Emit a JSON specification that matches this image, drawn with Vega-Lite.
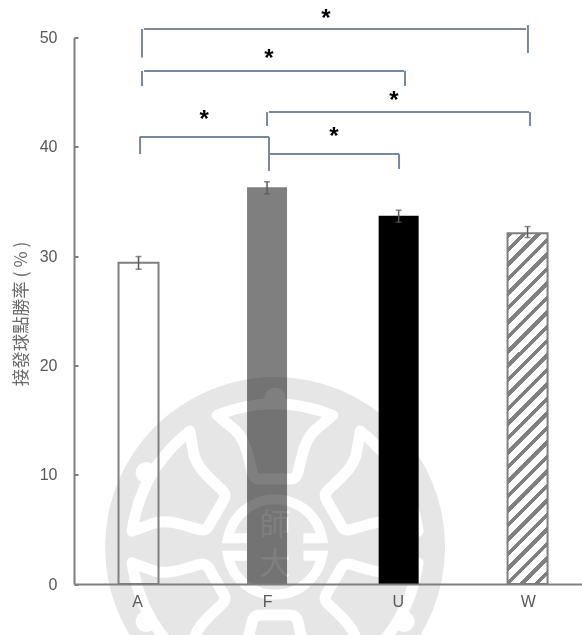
{"$schema":"https://vega.github.io/schema/vega-lite/v6.json","width":508,"height":546.5,"autosize":{"type":"none"},"padding":{"left":74,"top":37.5,"right":0,"bottom":51},"background":"white","view":{"stroke":null},"config":{"font":"Liberation Sans"},"datasets":{"bars":[{"group":"A","pos":1,"value":29.4,"low":28.8,"high":29.96},{"group":"F","pos":1.994,"value":36.3,"low":35.7,"high":36.8},{"group":"U","pos":3.012,"value":33.7,"low":33.1,"high":34.2},{"group":"W","pos":4.009,"value":32.1,"low":31.7,"high":32.7}],"segments":[{"pos":1.043,"pos2":3.997,"value":50.78,"value2":50.78},{"pos":1.027,"pos2":1.027,"value":50.78,"value2":48.17},{"pos":4.012,"pos2":4.012,"value":51.14,"value2":48.58},{"pos":1.043,"pos2":3.053,"value":46.94,"value2":46.94},{"pos":1.027,"pos2":1.027,"value":46.94,"value2":45.56},{"pos":3.061,"pos2":3.061,"value":46.94,"value2":45.56},{"pos":2.009,"pos2":4.02,"value":43.18,"value2":43.18},{"pos":1.994,"pos2":1.994,"value":43.18,"value2":41.9},{"pos":4.028,"pos2":4.028,"value":43.18,"value2":41.9},{"pos":1.008,"pos2":2.009,"value":40.9,"value2":40.9},{"pos":1.012,"pos2":1.012,"value":40.9,"value2":39.34},{"pos":2.009,"pos2":2.009,"value":40.9,"value2":37.79},{"pos":2.009,"pos2":3.015,"value":39.34,"value2":39.34},{"pos":3.015,"pos2":3.015,"value":39.34,"value2":37.97}],"stars":[{"pos":2.45,"value":52.06,"label":"*"},{"pos":2.009,"value":48.4,"label":"*"},{"pos":2.976,"value":44.56,"label":"*"},{"pos":1.507,"value":42.82,"label":"*"},{"pos":2.512,"value":41.26,"label":"*"}],"watermark":[{"pos":2.056,"value":3.385,"angle":0},{"pos":2.056,"value":3.385,"angle":60},{"pos":2.056,"value":3.385,"angle":120},{"pos":2.056,"value":3.385,"angle":180},{"pos":2.056,"value":3.385,"angle":240},{"pos":2.056,"value":3.385,"angle":300}],"seal":[{"pos":2.056,"value":5.3,"label":"師"},{"pos":2.056,"value":1.7,"label":"大"}]},"encoding":{"x":{"field":"pos","type":"quantitative","scale":{"domain":[0.501,4.43],"nice":false,"zero":false,"padding":0},"axis":{"title":null,"values":[0.988,1.994,3.005,4.01],"labelExpr":"datum.value<1.5?'A':datum.value<2.5?'F':datum.value<3.5?'U':'W'","grid":false,"ticks":false,"domainColor":"#7f7f7f","domainWidth":2,"labelColor":"#595959","labelFontSize":16,"labelPadding":9,"labelFlush":false,"labelOverlap":false,"zindex":1}},"y":{"field":"value","type":"quantitative","scale":{"domain":[0,50],"nice":false,"padding":0},"axis":{"title":"接發球點勝率 ( % )","titleFont":"Noto Sans CJK TC","titleFontWeight":"normal","titleFontSize":17.5,"titleColor":"#6a6a6a","titleX":-44,"titleY":276,"values":[0,10,20,30,40,50],"grid":false,"tickColor":"#7f7f7f","tickSize":-4,"tickWidth":2,"domainColor":"#7f7f7f","domainWidth":2,"labelColor":"#595959","labelFontSize":16,"labelPadding":21,"zindex":1}}},"layer":[{"data":{"name":"watermark"},"transform":[{"filter":"datum.angle==0"}],"mark":{"type":"point","shape":"circle","filled":true,"size":115600,"fill":"#e6e6e6","stroke":null,"opacity":1,"clip":false}},{"data":{"name":"watermark"},"mark":{"type":"point","shape":"M-0.09 -0.4 L0.09 -0.4 Q0.125 -0.4 0.135 -0.44 C0.16 -0.55 0.18 -0.65 0.25 -0.7 L0.34 -0.775 Q0 -0.911 -0.34 -0.775 L-0.25 -0.7 C-0.18 -0.65 -0.16 -0.55 -0.135 -0.44 Q-0.125 -0.4 -0.09 -0.4 Z M-0.03 -0.875 A0.03 0.03 0 1 1 0.03 -0.875 A0.03 0.03 0 1 1 -0.03 -0.875 Z","filled":false,"size":115600,"stroke":"white","strokeWidth":11,"strokeJoin":"round","opacity":1},"encoding":{"angle":{"field":"angle","type":"quantitative","scale":null}}},{"data":{"name":"watermark"},"transform":[{"filter":"datum.angle==0"}],"mark":{"type":"point","shape":"M-0.167 -0.052 L-0.277 -0.052 A0.282 0.282 0 0 1 0.277 -0.052 L0.167 -0.052 M-0.167 0.052 L-0.277 0.052 A0.282 0.282 0 0 0 0.277 0.052 L0.167 0.052","filled":false,"size":115600,"stroke":"white","strokeWidth":10,"opacity":1}},{"data":{"name":"seal"},"mark":{"type":"text","font":"Noto Sans CJK TC","fontSize":31,"color":"white","align":"center","baseline":"middle"},"encoding":{"text":{"field":"label"}}},{"data":{"name":"bars"},"transform":[{"filter":"datum.group=='F'||datum.group=='U'"}],"mark":{"type":"bar","orient":"vertical","size":40,"blend":"multiply"},"encoding":{"color":{"field":"group","type":"nominal","legend":null,"scale":{"domain":["F","U"],"range":["#7f7f7f","#000000"]}}}},{"data":{"name":"bars"},"transform":[{"filter":"datum.group=='A'"}],"mark":{"type":"bar","orient":"vertical","size":40,"fill":"transparent","stroke":"#7f7f7f","strokeWidth":2}},{"data":{"name":"bars"},"transform":[{"filter":"datum.group=='W'"}],"mark":{"type":"bar","orient":"vertical","size":40,"stroke":"#7f7f7f","strokeWidth":2,"fill":{"gradient":"linear","x1":0,"y1":0,"x2":0.1253,"y2":1.0997,"stops":[{"offset":0,"color":"#7f7f7f"},{"offset":0.01407,"color":"#7f7f7f"},{"offset":0.01407,"color":"#ffffff"},{"offset":0.03704,"color":"#ffffff"},{"offset":0.03704,"color":"#7f7f7f"},{"offset":0.05111,"color":"#7f7f7f"},{"offset":0.05111,"color":"#ffffff"},{"offset":0.07407,"color":"#ffffff"},{"offset":0.07407,"color":"#7f7f7f"},{"offset":0.08814,"color":"#7f7f7f"},{"offset":0.08814,"color":"#ffffff"},{"offset":0.11111,"color":"#ffffff"},{"offset":0.11111,"color":"#7f7f7f"},{"offset":0.12518,"color":"#7f7f7f"},{"offset":0.12518,"color":"#ffffff"},{"offset":0.14815,"color":"#ffffff"},{"offset":0.14815,"color":"#7f7f7f"},{"offset":0.16222,"color":"#7f7f7f"},{"offset":0.16222,"color":"#ffffff"},{"offset":0.18519,"color":"#ffffff"},{"offset":0.18519,"color":"#7f7f7f"},{"offset":0.19926,"color":"#7f7f7f"},{"offset":0.19926,"color":"#ffffff"},{"offset":0.22222,"color":"#ffffff"},{"offset":0.22222,"color":"#7f7f7f"},{"offset":0.23629,"color":"#7f7f7f"},{"offset":0.23629,"color":"#ffffff"},{"offset":0.25926,"color":"#ffffff"},{"offset":0.25926,"color":"#7f7f7f"},{"offset":0.27333,"color":"#7f7f7f"},{"offset":0.27333,"color":"#ffffff"},{"offset":0.2963,"color":"#ffffff"},{"offset":0.2963,"color":"#7f7f7f"},{"offset":0.31037,"color":"#7f7f7f"},{"offset":0.31037,"color":"#ffffff"},{"offset":0.33333,"color":"#ffffff"},{"offset":0.33333,"color":"#7f7f7f"},{"offset":0.3474,"color":"#7f7f7f"},{"offset":0.3474,"color":"#ffffff"},{"offset":0.37037,"color":"#ffffff"},{"offset":0.37037,"color":"#7f7f7f"},{"offset":0.38444,"color":"#7f7f7f"},{"offset":0.38444,"color":"#ffffff"},{"offset":0.40741,"color":"#ffffff"},{"offset":0.40741,"color":"#7f7f7f"},{"offset":0.42148,"color":"#7f7f7f"},{"offset":0.42148,"color":"#ffffff"},{"offset":0.44444,"color":"#ffffff"},{"offset":0.44444,"color":"#7f7f7f"},{"offset":0.45851,"color":"#7f7f7f"},{"offset":0.45851,"color":"#ffffff"},{"offset":0.48148,"color":"#ffffff"},{"offset":0.48148,"color":"#7f7f7f"},{"offset":0.49555,"color":"#7f7f7f"},{"offset":0.49555,"color":"#ffffff"},{"offset":0.51852,"color":"#ffffff"},{"offset":0.51852,"color":"#7f7f7f"},{"offset":0.53259,"color":"#7f7f7f"},{"offset":0.53259,"color":"#ffffff"},{"offset":0.55556,"color":"#ffffff"},{"offset":0.55556,"color":"#7f7f7f"},{"offset":0.56963,"color":"#7f7f7f"},{"offset":0.56963,"color":"#ffffff"},{"offset":0.59259,"color":"#ffffff"},{"offset":0.59259,"color":"#7f7f7f"},{"offset":0.60666,"color":"#7f7f7f"},{"offset":0.60666,"color":"#ffffff"},{"offset":0.62963,"color":"#ffffff"},{"offset":0.62963,"color":"#7f7f7f"},{"offset":0.6437,"color":"#7f7f7f"},{"offset":0.6437,"color":"#ffffff"},{"offset":0.66667,"color":"#ffffff"},{"offset":0.66667,"color":"#7f7f7f"},{"offset":0.68074,"color":"#7f7f7f"},{"offset":0.68074,"color":"#ffffff"},{"offset":0.7037,"color":"#ffffff"},{"offset":0.7037,"color":"#7f7f7f"},{"offset":0.71777,"color":"#7f7f7f"},{"offset":0.71777,"color":"#ffffff"},{"offset":0.74074,"color":"#ffffff"},{"offset":0.74074,"color":"#7f7f7f"},{"offset":0.75481,"color":"#7f7f7f"},{"offset":0.75481,"color":"#ffffff"},{"offset":0.77778,"color":"#ffffff"},{"offset":0.77778,"color":"#7f7f7f"},{"offset":0.79185,"color":"#7f7f7f"},{"offset":0.79185,"color":"#ffffff"},{"offset":0.81481,"color":"#ffffff"},{"offset":0.81481,"color":"#7f7f7f"},{"offset":0.82888,"color":"#7f7f7f"},{"offset":0.82888,"color":"#ffffff"},{"offset":0.85185,"color":"#ffffff"},{"offset":0.85185,"color":"#7f7f7f"},{"offset":0.86592,"color":"#7f7f7f"},{"offset":0.86592,"color":"#ffffff"},{"offset":0.88889,"color":"#ffffff"},{"offset":0.88889,"color":"#7f7f7f"},{"offset":0.90296,"color":"#7f7f7f"},{"offset":0.90296,"color":"#ffffff"},{"offset":0.92593,"color":"#ffffff"},{"offset":0.92593,"color":"#7f7f7f"},{"offset":0.94,"color":"#7f7f7f"},{"offset":0.94,"color":"#ffffff"},{"offset":0.96296,"color":"#ffffff"},{"offset":0.96296,"color":"#7f7f7f"},{"offset":0.97703,"color":"#7f7f7f"},{"offset":0.97703,"color":"#ffffff"},{"offset":1,"color":"#ffffff"}]}}},{"data":{"name":"bars"},"mark":{"type":"rule","color":"#595959","strokeWidth":1.5},"encoding":{"y":{"field":"low","type":"quantitative"},"y2":{"field":"high"}}},{"data":{"name":"bars"},"mark":{"type":"tick","orient":"horizontal","size":6,"thickness":1.5,"color":"#595959"},"encoding":{"y":{"field":"low","type":"quantitative"}}},{"data":{"name":"bars"},"mark":{"type":"tick","orient":"horizontal","size":6,"thickness":1.5,"color":"#595959"},"encoding":{"y":{"field":"high","type":"quantitative"}}},{"data":{"name":"segments"},"mark":{"type":"rule","color":"#7a889e","strokeWidth":2},"encoding":{"x2":{"field":"pos2"},"y2":{"field":"value2"}}},{"data":{"name":"stars"},"mark":{"type":"text","font":"Liberation Sans","fontWeight":"bold","fontSize":24,"color":"black","align":"center","baseline":"middle","dy":4},"encoding":{"text":{"field":"label"}}}]}
